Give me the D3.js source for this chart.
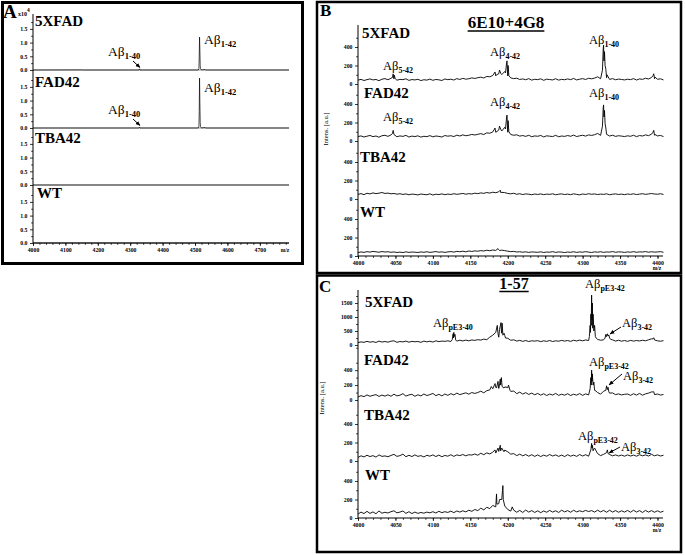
<!DOCTYPE html>
<html><head><meta charset="utf-8">
<script src="https://cdn.jsdelivr.net/npm/d3@7"></script>
<style>body{margin:0;background:#fff} svg{display:block}</style>
</head><body><svg id="c" width="685" height="555"></svg>
<script>
// ================= DATA =================
const samples = ["5XFAD", "FAD42", "TBA42", "WT"];

// Panel A (intensity x10^4)
const A_xTicks = [4000, 4100, 4200, 4300, 4400, 4500, 4600, 4700];
const A_yTicks = [0, 0.5, 1.0, 1.5];
const A_5XFAD = [[4000,0],[4150,0.004],[4152,0],[4327,0],[4328.5,0.04],[4330,0],[4510,0],[4512,0.05],[4513,0.5],[4514,1.2],[4515,0.7],[4516,0.15],[4517,0.05],[4520,0],[4531,0.02],[4533,0],[4790,0]];
const A_FAD42 = [[4000,0],[4327,0],[4328.5,0.03],[4330,0],[4510,0],[4512,0.06],[4513,0.6],[4514,1.82],[4515,0.9],[4516,0.2],[4517,0.05],[4520,0],[4531,0.02],[4533,0],[4790,0]];
const A_TBA42 = [[4000,0],[4790,0]];
const A_WT = [[4000,0],[4790,0]];

// Panels B and C: baseline intensities sampled every 4 m/z from 4000 to 4408
const BC_xTicks = [4000, 4050, 4100, 4150, 4200, 4250, 4300, 4350, 4400];
const B_yTicks = [0, 200, 400];
const C_yTicks5X = [0, 500, 1000, 1500];
const C_yTicks = [0, 200, 400];

const B_5XFAD_base = [
 42,50,38,47,55,44,49,36,52,58,
 46,62,55,41,50,47,56,39,48,44,
 51,37,46,42,53,40,49,45,38,54,
 47,52,43,58,49,61,52,57,66,60,
 68,74,65,82,78,92,88,110,102,135,
 88,66,58,63,49,55,46,58,42,51,
 47,56,40,52,48,44,57,42,50,46,
 55,47,60,44,52,58,49,62,56,64,
 78,57,63,68,50,58,46,53,49,44,
 52,47,58,43,55,50,62,54,70,58,
 51,56,44];
const B_5XFAD_peaks = [[4046,70],[4047,110],[4047.5,75],[4048.5,95],[4049.5,60],[4183,130],[4185,100],[4189,150],[4191,110],[4197,120],[4198.5,230],[4199,250],[4199.5,160],[4200.5,200],[4201.5,90],[4326.5,150],[4327.5,380],[4328,420],[4328.5,250],[4329.2,350],[4330,200],[4331,160],[4332.5,100],[4394,90],[4395,110],[4396.5,75]];

const B_FAD42_base = [
 48,55,43,52,60,47,54,41,57,62,
 50,66,72,46,55,50,61,43,53,48,
 56,42,51,47,58,45,54,50,43,59,
 52,57,48,63,54,66,57,62,71,65,
 72,80,70,88,84,98,94,118,108,148,
 95,70,62,67,53,59,50,62,46,55,
 51,60,44,56,52,48,61,46,54,50,
 59,51,64,48,56,62,53,66,60,68,
 82,61,67,72,54,62,50,57,53,48,
 56,51,62,47,59,54,66,58,74,62,
 55,60,48];
const B_FAD42_peaks = [[4046,80],[4047,115],[4048,70],[4183,140],[4189,160],[4191,120],[4197,130],[4198.5,260],[4199,280],[4199.5,170],[4200.5,220],[4201.5,100],[4326.5,160],[4327.5,360],[4328,390],[4328.5,260],[4329.2,330],[4330,190],[4331,140],[4394,95],[4395,115],[4396.5,70]];

const B_TBA42_base = [
 50,58,47,62,55,66,58,63,70,60,
 64,56,60,52,57,49,55,46,53,50,
 44,54,49,46,56,43,52,48,55,47,
 53,49,57,51,55,60,52,58,54,63,
 58,66,61,70,64,73,68,78,72,69,
 60,56,62,51,57,48,55,52,46,54,
 49,55,47,53,50,56,46,52,55,48,
 53,47,56,50,45,54,49,57,51,55,
 48,53,50,56,46,52,55,49,53,47,
 54,50,56,48,53,57,50,55,59,54,
 52,57,49];
const B_TBA42_peaks = [[4190,95],[4191,65]];

const B_WT_base = [
 36,44,39,47,42,50,45,41,48,43,
 46,40,44,38,42,37,45,39,43,41,
 38,44,40,46,39,43,48,41,45,39,
 44,48,42,50,46,52,45,54,49,55,
 52,58,54,62,57,65,60,68,63,58,
 52,47,50,43,46,41,45,39,44,42,
 40,45,38,43,41,47,39,44,42,37,
 43,40,46,39,44,41,47,42,38,45,
 41,46,39,44,42,48,40,45,43,39,
 44,41,47,40,45,43,48,41,46,42,
 44,47,40];
const B_WT_peaks = [[4187,80],[4189,60]];

const C_5XFAD_base = [
 85,110,95,130,100,120,90,140,105,125,
 100,135,150,95,125,110,140,100,130,115,
 125,95,140,110,135,105,150,120,140,130,
 150,125,160,135,170,145,175,150,180,165,
 190,175,210,190,260,230,320,280,420,340,
 240,170,185,140,165,130,160,125,150,140,
 155,120,150,130,160,125,150,135,165,140,
 160,130,170,145,175,150,180,160,290,190,
 200,170,185,260,160,185,140,170,135,160,
 130,165,140,160,145,170,150,185,220,165,
 150,135,155];
const C_5XFAD_peaks = [[4126,200],[4127,400],[4127.5,250],[4128,450],[4128.5,300],[4129.5,380],[4130.5,180],[4133,150],[4176,280],[4180,350],[4184,450],[4186,700],[4187,400],[4189,550],[4191,800],[4191.5,500],[4192.5,780],[4193.5,350],[4195,420],[4197,250],[4309,300],[4310,700],[4310.5,450],[4311,1100],[4311.5,700],[4312,1780],[4312.5,900],[4313,1500],[4313.5,600],[4314,1100],[4315,500],[4316,700],[4317,300],[4318,250],[4330,250],[4331,380],[4332,300],[4333,400],[4334,320],[4335,360],[4336,250],[4337.5,200],[4394,220],[4395,260],[4396,180]];

const C_FAD42_base = [
 40,58,45,68,50,62,72,48,66,52,
 70,50,78,55,64,85,52,68,76,50,
 70,55,80,60,72,88,58,76,55,80,
 62,85,68,92,72,84,96,78,100,88,
 100,118,96,125,135,150,170,155,235,175,
 160,115,120,85,105,80,98,75,92,70,
 88,65,84,60,80,66,88,62,78,64,
 84,60,78,65,86,62,82,68,92,130,
 100,78,118,148,92,95,72,82,68,76,
 80,62,84,66,88,64,82,92,108,72,
 80,66,74];
const C_FAD42_peaks = [[4178,180],[4183,220],[4185,160],[4187,250],[4189,200],[4190,280],[4190.5,200],[4191.5,300],[4192.5,180],[4195,160],[4199,170],[4201,200],[4203,130],[4310,150],[4311,300],[4311.5,200],[4312,400],[4312.5,250],[4313,350],[4314,200],[4315,240],[4316.5,130],[4331,130],[4332,190],[4333,140],[4334,170],[4335,110],[4395,110]];

const C_TBA42_base = [
 38,56,44,62,48,58,42,66,50,55,
 46,60,72,50,58,74,46,62,48,66,
 50,58,44,62,52,66,48,64,46,60,
 52,68,50,66,58,70,56,68,64,76,
 62,84,68,88,76,96,86,104,112,118,
 100,74,80,58,74,56,70,52,68,50,
 66,48,64,52,70,54,66,50,64,48,
 68,52,64,50,70,54,68,52,70,140,
 80,58,72,62,70,56,66,54,64,52,
 66,54,64,52,68,56,66,54,72,56,
 66,54,62];
const C_TBA42_peaks = [[4183,120],[4187,140],[4190,170],[4190.5,110],[4192,140],[4195,100],[4311,120],[4312,190],[4312.5,140],[4313,170],[4314,110],[4315,130],[4332,90],[4333,120],[4334,80]];

const C_WT_base = [
 42,64,48,72,50,66,46,76,52,62,
 54,68,78,56,64,76,50,68,48,64,
 50,60,52,64,56,68,54,72,58,68,
 60,74,58,76,64,78,66,84,72,92,
 80,106,88,116,102,136,120,155,148,128,
 92,74,84,62,82,60,86,64,80,60,
 78,58,76,62,82,64,78,60,84,66,
 80,62,84,66,78,68,82,70,80,64,
 84,66,82,62,84,64,80,62,78,64,
 82,62,84,64,80,60,82,64,80,62,
 78,62,74];
const C_WT_peaks = [[4185,260],[4185.5,150],[4189,200],[4192,200],[4193,300],[4193.5,350],[4194,200],[4196,130],[4206,120]];

// ================= DRAWING =================
const svg = d3.select("#c");
const SERIF = "'Liberation Serif','Times New Roman',serif";
const gridMz = d3.range(4000, 4409, 4);

svg.append("defs").append("marker").attr("id","arr").attr("viewBox","0 0 10 10")
  .attr("refX",9).attr("refY",5).attr("markerWidth",5).attr("markerHeight",5).attr("orient","auto")
  .append("path").attr("d","M0,1 L10,5 L0,9 Z").attr("fill","#000");

function frame(x,y,w,h,sw){
  svg.append("rect").attr("x",x).attr("y",y).attr("width",w).attr("height",h)
    .attr("fill","none").attr("stroke","#000").attr("stroke-width",sw);
}
function txt(x,y,s,size,weight,anchor){
  return svg.append("text").attr("x",x).attr("y",y).text(s)
    .attr("font-family",SERIF).attr("font-size",size).attr("font-weight",weight||"normal")
    .attr("text-anchor",anchor||"start").attr("fill","#000");
}
function abeta(x,y,sub,size,subSize){
  const t = svg.append("text").attr("x",x).attr("y",y).attr("font-family",SERIF).attr("fill","#000");
  t.append("tspan").text("Aβ").attr("font-size",size);
  t.append("tspan").text(sub).attr("font-size",subSize).attr("font-weight","bold").attr("dy",subSize*0.35);
}
function arrow(x1,y1,x2,y2){
  svg.append("line").attr("x1",x1).attr("y1",y1).attr("x2",x2).attr("y2",y2)
    .attr("stroke","#000").attr("stroke-width",1).attr("marker-end","url(#arr)");
}
function mergePts(base, peaks){
  const pts = gridMz.map((m,i)=>[m, base[i]]).filter(p => !peaks.some(q => Math.abs(q[0]-p[0])<0.01));
  return pts.concat(peaks).sort((a,b)=>a[0]-b[0]);
}
function spectrum(x, y, pts, color, sw){
  svg.append("path").attr("d", d3.line().x(d=>x(d[0])).y(d=>y(d[1]))(pts))
    .attr("fill","none").attr("stroke",color).attr("stroke-width",sw).attr("stroke-linejoin","round");
}
function styleAxis(g, size){
  g.selectAll("text").attr("font-family",SERIF).attr("font-size",size).attr("font-weight","bold").attr("fill","#000");
  g.selectAll("line").attr("stroke","#000").attr("stroke-width",0.8);
  g.select(".domain").remove();
}
function yAxis(xPos, y, major, minor, fmt){
  svg.append("g").attr("transform",`translate(${xPos},0)`)
    .call(d3.axisLeft(y).tickValues(minor).tickSize(1.8).tickFormat(""))
    .call(g=>styleAxis(g,5.5));
  svg.append("g").attr("transform",`translate(${xPos},0)`)
    .call(d3.axisLeft(y).tickValues(major).tickSize(3).tickPadding(2.5).tickFormat(fmt))
    .call(g=>styleAxis(g,5.8));
}
function xAxis(yPos, x, major, minor){
  svg.append("g").attr("transform",`translate(0,${yPos})`)
    .call(d3.axisBottom(x).tickValues(minor).tickSize(1.8).tickFormat(""))
    .call(g=>styleAxis(g,5.5));
  svg.append("g").attr("transform",`translate(0,${yPos})`)
    .call(d3.axisBottom(x).tickValues(major).tickSize(3).tickPadding(1.5).tickFormat(d3.format("d")))
    .call(g=>styleAxis(g,5.8));
}
function vline(x,y1,y2,c,w){ svg.append("line").attr("x1",x).attr("x2",x).attr("y1",y1).attr("y2",y2).attr("stroke",c).attr("stroke-width",w); }
function hline(y,x1,x2,c,w){ svg.append("line").attr("x1",x1).attr("x2",x2).attr("y1",y).attr("y2",y).attr("stroke",c).attr("stroke-width",w); }
function underlinedTitle(cx, y, s, size){
  const t = txt(cx, y, s, size, "bold", "middle");
  const w = t.node().getComputedTextLength();
  hline(y+3, cx-w/2, cx+w/2, "#000", 1.5);
}

// ---------- Panel A ----------
frame(2.5, 2.5, 300, 261, 3);
txt(3, 18, "A", 19, "bold");
const ax10 = svg.append("text").attr("x",18).attr("y",16).attr("font-family",SERIF).attr("font-size",6).attr("font-weight","bold");
ax10.append("tspan").text("x10");
ax10.append("tspan").text("4").attr("dy",-4).attr("font-size",5.5);

const Ax = d3.scaleLinear().domain([4000, 4790]).range([33, 289]);
const A_base = [70, 128, 185, 243];
const A_specs = [A_5XFAD, A_FAD42, A_TBA42, A_WT];
const A_labelY = [26, 87, 143, 198];
A_base.forEach((b,i)=>{
  const y = d3.scaleLinear().domain([0, 2]).range([b, b - 54.8]);
  if (i < 3) hline(b, 33, 289, "#9a9a9a", 1);
  spectrum(Ax, y, A_specs[i], "#000", 0.7);
  yAxis(33, y, A_yTicks, [0.25,0.75,1.25,1.75], d3.format(".1f"));
  txt(i===3?37:35, A_labelY[i], samples[i], 15, "bold");
});
vline(33, 14, 243, "#000", 1);
hline(243, 33, 289, "#000", 1);
xAxis(243, Ax, A_xTicks, d3.range(4000, 4781, 20));
txt(285, 251.5, "m/z", 5.5, "bold", "middle");
abeta(204, 44, "1-42", 13.5, 8.5);
abeta(204, 92, "1-42", 13.5, 8.5);
abeta(108, 56, "1-40", 13.5, 8.5);
abeta(108, 114, "1-40", 13.5, 8.5);
arrow(133, 61, 140, 67.5);
arrow(133, 119, 140, 125.5);

// ---------- Panel B ----------
frame(317, 2, 364, 271, 2.5);
txt(320, 16, "B", 17, "bold");
underlinedTitle(506, 28, "6E10+4G8", 17);
const BCx = d3.scaleLinear().domain([4000, 4400]).range([358, 657.5]);
const B_base = [84, 141, 199, 256];
const B_specs = [[B_5XFAD_base,B_5XFAD_peaks],[B_FAD42_base,B_FAD42_peaks],[B_TBA42_base,B_TBA42_peaks],[B_WT_base,B_WT_peaks]];
const B_labelX = [362, 364, 360, 360];
const B_labelY = [38, 98, 162, 217];
B_base.forEach((b,i)=>{
  const y = d3.scaleLinear().domain([0, 600]).range([b, b - 55.5]);
  spectrum(BCx, y, mergePts(B_specs[i][0], B_specs[i][1]), "#000", 0.9);
  yAxis(358, y, B_yTicks, [100, 300, 500], d3.format("d"));
  txt(B_labelX[i], B_labelY[i], samples[i], 15, "bold");
});
vline(358, 25, 256, "#000", 1);
hline(256, 358, 663, "#000", 1.2);
xAxis(256, BCx, BC_xTicks, d3.range(4000, 4401, 10));
txt(657, 270, "m/z", 5.5, "bold", "middle");
svg.append("text").attr("transform","translate(328,129) rotate(-90)").attr("text-anchor","middle")
  .attr("font-family",SERIF).attr("font-size",6.5).text("Intens. [a.u.]");
abeta(383, 70, "5-42", 12.5, 8);
abeta(383, 121, "5-42", 12.5, 8);
abeta(490, 56, "4-42", 12.5, 8);
abeta(490, 106, "4-42", 12.5, 8);
abeta(589, 44, "1-40", 12.5, 8);
abeta(589, 97, "1-40", 12.5, 8);

// ---------- Panel C ----------
frame(317, 275.5, 364, 276.5, 2.5);
txt(319, 292, "C", 17, "bold");
underlinedTitle(514, 288.5, "1-57", 16);
const C_base = [345, 400, 461, 518];
const C_specs = [[C_5XFAD_base,C_5XFAD_peaks],[C_FAD42_base,C_FAD42_peaks],[C_TBA42_base,C_TBA42_peaks],[C_WT_base,C_WT_peaks]];
const C_top = [2000, 750, 600, 600];
const C_h = [56, 56, 55.5, 55.5];
const C_labelX = [365, 364, 364, 365];
const C_labelY = [307, 365, 420, 480];
C_base.forEach((b,i)=>{
  const y = d3.scaleLinear().domain([0, C_top[i]]).range([b, b - C_h[i]]);
  spectrum(BCx, y, mergePts(C_specs[i][0], C_specs[i][1]), "#000", 0.9);
  if (i === 0) yAxis(358, y, C_yTicks5X, [250, 750, 1250, 1750], d3.format("d"));
  else yAxis(358, y, C_yTicks, i===1 ? [100,300,500,700] : [100,300,500], d3.format("d"));
  txt(C_labelX[i], C_labelY[i], samples[i], 15, "bold");
});
vline(358, 290, 518, "#000", 1);
hline(518, 358, 663, "#000", 1.2);
xAxis(518, BCx, BC_xTicks, d3.range(4000, 4401, 10));
txt(657, 532, "m/z", 5.5, "bold", "middle");
svg.append("text").attr("transform","translate(324,398) rotate(-90)").attr("text-anchor","middle")
  .attr("font-family",SERIF).attr("font-size",6.5).text("Intens. [a.u.]");
abeta(433, 327, "pE3-40", 12.5, 8);
abeta(585, 288, "pE3-42", 12.5, 8);
abeta(622, 327, "3-42", 12.5, 8);
arrow(621, 327, 610, 334);
abeta(589, 366, "pE3-42", 12.5, 8);
abeta(623, 380, "3-42", 12.5, 8);
arrow(622, 374, 609, 385);
abeta(578, 440, "pE3-42", 12.5, 8);
abeta(621, 451, "3-42", 12.5, 8);
arrow(620, 447, 609, 453);
</script></body></html>
